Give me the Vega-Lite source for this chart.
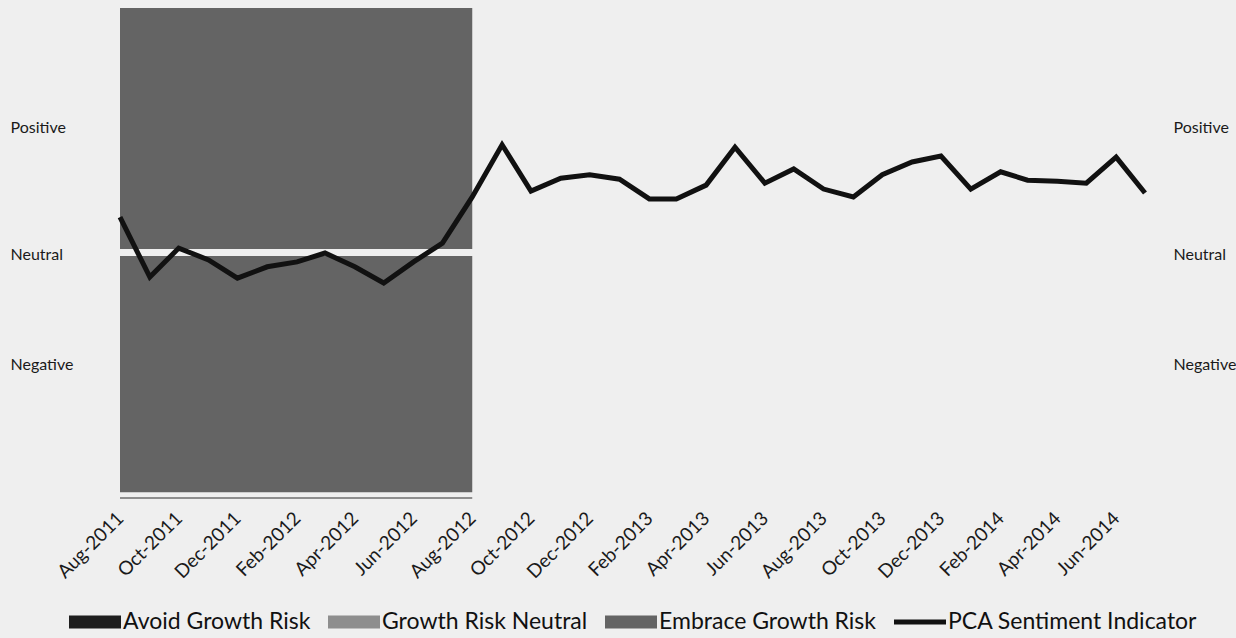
{
  "$schema": "https://vega.github.io/schema/vega-lite/v6.json",
  "width": 1025,
  "height": 492,
  "autosize": {"type": "none"},
  "padding": {"left": 120, "top": 8, "right": 91, "bottom": 138},
  "background": "#efefef",
  "config": {
    "view": {"stroke": null},
    "font": "Lato",
    "axis": {"grid": false, "domain": false, "ticks": false, "tickSize": 0, "labelFont": "Lato", "labelColor": "#1a1a1a", "title": null}
  },
  "datasets": {
    "bands": [
      {"series": "Embrace Growth Risk", "start": "2011-08-01", "end": "2012-08-01", "lo": 1.6, "hi": 49.6},
      {"series": "Embrace Growth Risk", "start": "2011-08-01", "end": "2012-08-01", "lo": 51.0, "hi": 100},
      {"series": "Growth Risk Neutral", "start": "2011-08-01", "end": "2012-08-01", "lo": 0.2, "hi": 0.6}
    ],
    "pca": [
      {"series": "PCA Sentiment Indicator", "month": "2011-08-01", "value": 57.5},
      {"series": "PCA Sentiment Indicator", "month": "2011-09-01", "value": 45.3},
      {"series": "PCA Sentiment Indicator", "month": "2011-10-01", "value": 51.2},
      {"series": "PCA Sentiment Indicator", "month": "2011-11-01", "value": 48.8},
      {"series": "PCA Sentiment Indicator", "month": "2011-12-01", "value": 45.1},
      {"series": "PCA Sentiment Indicator", "month": "2012-01-01", "value": 47.4},
      {"series": "PCA Sentiment Indicator", "month": "2012-02-01", "value": 48.4},
      {"series": "PCA Sentiment Indicator", "month": "2012-03-01", "value": 50.2},
      {"series": "PCA Sentiment Indicator", "month": "2012-04-01", "value": 47.4},
      {"series": "PCA Sentiment Indicator", "month": "2012-05-01", "value": 44.1},
      {"series": "PCA Sentiment Indicator", "month": "2012-06-01", "value": 48.4},
      {"series": "PCA Sentiment Indicator", "month": "2012-07-01", "value": 52.2},
      {"series": "PCA Sentiment Indicator", "month": "2012-08-01", "value": 61.6},
      {"series": "PCA Sentiment Indicator", "month": "2012-09-01", "value": 72.2},
      {"series": "PCA Sentiment Indicator", "month": "2012-10-01", "value": 62.8},
      {"series": "PCA Sentiment Indicator", "month": "2012-11-01", "value": 65.4},
      {"series": "PCA Sentiment Indicator", "month": "2012-12-01", "value": 66.1},
      {"series": "PCA Sentiment Indicator", "month": "2013-01-01", "value": 65.2},
      {"series": "PCA Sentiment Indicator", "month": "2013-02-01", "value": 61.2},
      {"series": "PCA Sentiment Indicator", "month": "2013-03-01", "value": 61.2},
      {"series": "PCA Sentiment Indicator", "month": "2013-04-01", "value": 64.0},
      {"series": "PCA Sentiment Indicator", "month": "2013-05-01", "value": 71.7},
      {"series": "PCA Sentiment Indicator", "month": "2013-06-01", "value": 64.4},
      {"series": "PCA Sentiment Indicator", "month": "2013-07-01", "value": 67.3},
      {"series": "PCA Sentiment Indicator", "month": "2013-08-01", "value": 63.2},
      {"series": "PCA Sentiment Indicator", "month": "2013-09-01", "value": 61.6},
      {"series": "PCA Sentiment Indicator", "month": "2013-10-01", "value": 66.1},
      {"series": "PCA Sentiment Indicator", "month": "2013-11-01", "value": 68.7},
      {"series": "PCA Sentiment Indicator", "month": "2013-12-01", "value": 69.9},
      {"series": "PCA Sentiment Indicator", "month": "2014-01-01", "value": 63.2},
      {"series": "PCA Sentiment Indicator", "month": "2014-02-01", "value": 66.7},
      {"series": "PCA Sentiment Indicator", "month": "2014-03-01", "value": 65.0},
      {"series": "PCA Sentiment Indicator", "month": "2014-04-01", "value": 64.8},
      {"series": "PCA Sentiment Indicator", "month": "2014-05-01", "value": 64.4},
      {"series": "PCA Sentiment Indicator", "month": "2014-06-01", "value": 69.7},
      {"series": "PCA Sentiment Indicator", "month": "2014-07-01", "value": 62.4}
    ]
  },
  "resolve": {"scale": {"y": "shared", "x": "shared", "color": "shared"}, "axis": {"y": "independent", "x": "shared"}},
  "layer": [
    {
      "data": {"name": "bands"},
      "mark": {"type": "rect"},
      "encoding": {
        "x": {"field": "start", "type": "temporal", "timeUnit": "utcyearmonth",
              "scale": {"type": "utc", "domain": [{"year": 2011, "month": 8, "date": 1, "utc": true}, {"year": 2014, "month": 7, "date": 1, "utc": true}]},
              "axis": {"format": "%b-%Y", "labelAngle": -45, "labelAlign": "right", "labelBaseline": "middle", "labelPadding": 15, "labelFontSize": 19,
                       "labelOverlap": false, "labelBound": false,
                       "values": [
                         {"year": 2011, "month": 8, "date": 1, "utc": true}, {"year": 2011, "month": 10, "date": 1, "utc": true}, {"year": 2011, "month": 12, "date": 1, "utc": true},
                         {"year": 2012, "month": 2, "date": 1, "utc": true}, {"year": 2012, "month": 4, "date": 1, "utc": true}, {"year": 2012, "month": 6, "date": 1, "utc": true},
                         {"year": 2012, "month": 8, "date": 1, "utc": true}, {"year": 2012, "month": 10, "date": 1, "utc": true}, {"year": 2012, "month": 12, "date": 1, "utc": true},
                         {"year": 2013, "month": 2, "date": 1, "utc": true}, {"year": 2013, "month": 4, "date": 1, "utc": true}, {"year": 2013, "month": 6, "date": 1, "utc": true},
                         {"year": 2013, "month": 8, "date": 1, "utc": true}, {"year": 2013, "month": 10, "date": 1, "utc": true}, {"year": 2013, "month": 12, "date": 1, "utc": true},
                         {"year": 2014, "month": 2, "date": 1, "utc": true}, {"year": 2014, "month": 4, "date": 1, "utc": true}, {"year": 2014, "month": 6, "date": 1, "utc": true}
                       ]}},
        "x2": {"field": "end", "timeUnit": "utcyearmonth"},
        "y": {"field": "lo", "type": "quantitative",
              "scale": {"domain": [0, 100], "nice": false, "zero": false},
              "axis": {"orient": "left", "values": [27.6, 50, 75.8], "labelAlign": "left", "labelPadding": 110, "labelFontSize": 16,
                       "labelExpr": "datum.value > 70 ? 'Positive' : datum.value > 40 ? 'Neutral' : 'Negative'"}},
        "y2": {"field": "hi"},
        "color": {"field": "series", "type": "nominal",
                  "scale": {"domain": ["Avoid Growth Risk", "Growth Risk Neutral", "Embrace Growth Risk", "PCA Sentiment Indicator"],
                            "range": ["#1e1e1e", "#8e8e8e", "#646464", "#111111"]},
                  "legend": {"title": null, "orient": "none", "direction": "horizontal", "legendX": -51, "legendY": 588,
                             "columns": 4, "columnPadding": 17, "padding": 0, "offset": 0,
                             "symbolType": "M-1,-0.25H1V0.25H-1Z", "symbolSize": 2704, "symbolStrokeWidth": 0,
                             "labelFont": "Lato", "labelFontSize": 23, "labelColor": "#111111", "labelLimit": 400, "labelOffset": 2,
                             "encode": {"symbols": {"update": {"shape": {"signal": "datum.value === 'PCA Sentiment Indicator' ? 'M-1,-0.1H1V0.1H-1Z' : 'M-1,-0.25H1V0.25H-1Z'"}}}}}}
      }
    },
    {
      "data": {"name": "pca"},
      "mark": {"type": "line", "strokeWidth": 5, "strokeJoin": "miter"},
      "encoding": {
        "x": {"field": "month", "type": "temporal", "timeUnit": "utcyearmonth",
              "scale": {"type": "utc", "domain": [{"year": 2011, "month": 8, "date": 1, "utc": true}, {"year": 2014, "month": 7, "date": 1, "utc": true}]}},
        "y": {"field": "value", "type": "quantitative",
              "scale": {"domain": [0, 100], "nice": false, "zero": false},
              "axis": {"orient": "right", "values": [27.6, 50, 75.8], "labelAlign": "left", "labelPadding": 28, "labelFontSize": 16,
                       "labelExpr": "datum.value > 70 ? 'Positive' : datum.value > 40 ? 'Neutral' : 'Negative'"}},
        "color": {"field": "series", "type": "nominal", "legend": null}
      }
    }
  ]
}
